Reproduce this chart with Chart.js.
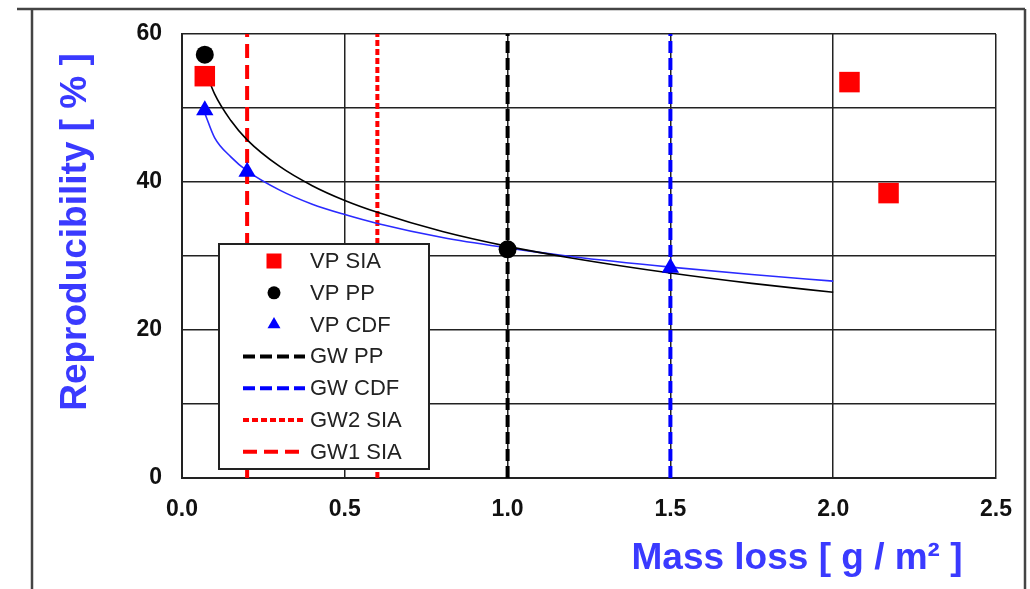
<!DOCTYPE html>
<html>
<head>
<meta charset="utf-8">
<script src="https://cdn.jsdelivr.net/npm/chart.js@4.4.0/dist/chart.umd.min.js"></script>
<style>
  html, body { margin: 0; padding: 0; background: #fff; }
  #wrap { width: 1030px; height: 589px; }
</style>
</head>
<body>
<div id="wrap"><canvas id="myChart"></canvas></div>
<script>
// measured points
const siaX = [0.07, 2.05, 2.17];
const siaY = [54.3, 53.5, 38.5];
const ppX = [0.07, 1.0];
const ppY = [57.2, 30.9];
const cdfX = [0.07, 0.2, 1.5];
const cdfY = [49.7, 41.4, 28.4];

// fitted trend curves
const fitX = [0.07, 0.1, 0.15, 0.2, 0.3, 0.4, 0.5, 0.6, 0.8, 1.0, 1.2, 1.5, 1.75, 2.0];
const ppFitY = [55.3, 51.9, 48.3, 45.7, 42.1, 39.5, 37.5, 35.9, 33.3, 31.3, 29.7, 27.7, 26.3, 25.1];
const cdfFitY = [49.3, 46.0, 43.4, 41.5, 38.9, 37.0, 35.6, 34.4, 32.5, 31.1, 29.9, 28.5, 27.5, 26.6];

// guideline positions (g/m2)
const gwPP = 1.0;
const gwCDF = 1.5;
const gw2SIA = 0.6;
const gw1SIA = 0.2;

const yLabelTicks = [0, 20, 40, 60];

const FONT = "'Liberation Sans', Arial, sans-serif";
const TITLE_BLUE = '#3a3aff';

function pts(xs, ys) {
  return xs.map((x, i) => ({ x: x, y: ys[i] }));
}

function vline(x) {
  return [{ x: x, y: 0 }, { x: x, y: 60 }];
}

const datasets = [
  {
    label: 'VP SIA', data: pts(siaX, siaY), pointStyle: 'rect', pointRadius: 14.5,
    backgroundColor: '#ff0000', borderWidth: 0, order: 0, legendMark: 'rect',
  },
  {
    label: 'VP PP', data: pts(ppX, ppY), pointStyle: 'circle', pointRadius: 9,
    backgroundColor: '#000000', borderWidth: 0, order: 0, legendMark: 'circle',
  },
  {
    label: 'VP CDF', data: pts(cdfX, cdfY), pointStyle: 'triangle', pointRadius: 10,
    backgroundColor: '#0000ff', borderWidth: 0, order: 0, legendMark: 'triangle',
  },
  {
    label: 'GW PP', data: vline(gwPP), showLine: true, pointRadius: 0,
    borderColor: '#000000', borderWidth: 4, borderDash: [12, 5], order: 2, legendMark: 'line',
  },
  {
    label: 'GW CDF', data: vline(gwCDF), showLine: true, pointRadius: 0,
    borderColor: '#0000ff', borderWidth: 4, borderDash: [12, 5], order: 2, legendMark: 'line',
  },
  {
    label: 'GW2 SIA', data: vline(gw2SIA), showLine: true, pointRadius: 0,
    borderColor: '#ff0000', borderWidth: 4, borderDash: [6, 3], order: 2, legendMark: 'line',
  },
  {
    label: 'GW1 SIA', data: vline(gw1SIA), showLine: true, pointRadius: 0,
    borderColor: '#ff0000', borderWidth: 4, borderDash: [14, 7], order: 2, legendMark: 'line',
  },
  {
    label: 'fit PP', data: pts(fitX, ppFitY), showLine: true, pointRadius: 0,
    borderColor: '#000000', borderWidth: 1.6, cubicInterpolationMode: 'monotone', order: 1,
  },
  {
    label: 'fit CDF', data: pts(fitX, cdfFitY), showLine: true, pointRadius: 0,
    borderColor: '#2a2aff', borderWidth: 1.6, cubicInterpolationMode: 'monotone', order: 1,
  },
];

// page frame lines around the figure
const framePlugin = {
  id: 'frame',
  beforeDraw(chart) {
    const ctx = chart.ctx;
    ctx.save();
    ctx.strokeStyle = '#444';
    ctx.lineWidth = 2.5;
    ctx.beginPath();
    ctx.moveTo(17, 9);
    ctx.lineTo(1025, 9);
    ctx.moveTo(32, 9);
    ctx.lineTo(32, 589);
    ctx.moveTo(1025, 9);
    ctx.lineTo(1025, 589);
    ctx.stroke();
    ctx.restore();
  },
};

// axis titles
const titlePlugin = {
  id: 'titles',
  afterDraw(chart) {
    const ctx = chart.ctx;
    ctx.save();
    ctx.fillStyle = TITLE_BLUE;
    ctx.font = 'bold 37px ' + FONT;
    ctx.textAlign = 'center';
    ctx.textBaseline = 'alphabetic';
    ctx.fillText('Mass loss [ g / m\u00B2 ]', 797, 569);
    ctx.translate(86, 232);
    ctx.rotate(-Math.PI / 2);
    ctx.fillText('Reproducibility [ % ]', 0, 0);
    ctx.restore();
  },
};

// boxed legend inside the plot
const boxLegendPlugin = {
  id: 'boxLegend',
  afterDatasetsDraw(chart) {
    const ctx = chart.ctx;
    const area = chart.chartArea;
    const left = area.left + 37;
    const top = area.top + 210;
    const w = 210;
    const h = 225;
    ctx.save();
    ctx.fillStyle = '#fff';
    ctx.fillRect(left, top, w, h);
    ctx.strokeStyle = '#222';
    ctx.lineWidth = 2;
    ctx.strokeRect(left, top, w, h);

    const items = chart.data.datasets.filter(d => d.legendMark);
    const mx = left + 55;
    items.forEach((d, i) => {
      const y = top + 17 + i * 31.8;
      if (d.legendMark === 'line') {
        ctx.strokeStyle = d.borderColor;
        ctx.lineWidth = 4;
        ctx.setLineDash(d.borderDash);
        ctx.beginPath();
        ctx.moveTo(left + 24, y);
        ctx.lineTo(left + 86, y);
        ctx.stroke();
        ctx.setLineDash([]);
      } else {
        ctx.fillStyle = d.backgroundColor;
        ctx.beginPath();
        if (d.legendMark === 'rect') {
          ctx.rect(mx - 7.5, y - 7.5, 15, 15);
        } else if (d.legendMark === 'circle') {
          ctx.arc(mx, y, 6.5, 0, Math.PI * 2);
        } else {
          const r = 7.5;
          ctx.moveTo(mx, y - r);
          ctx.lineTo(mx + r * 0.866, y + r / 2);
          ctx.lineTo(mx - r * 0.866, y + r / 2);
          ctx.closePath();
        }
        ctx.fill();
      }
      ctx.fillStyle = '#222';
      ctx.font = '22px ' + FONT;
      ctx.textAlign = 'left';
      ctx.textBaseline = 'middle';
      ctx.fillText(d.label, left + 91, y + 1);
    });
    ctx.restore();
  },
};

const config = {
  type: 'scatter',
  data: { datasets: datasets },
  options: {
    animation: false,
    responsive: true,
    maintainAspectRatio: false,
    layout: {
      padding: { top: 34, right: 34, left: 0, bottom: 0 },
    },
    scales: {
      x: {
        type: 'linear',
        min: 0,
        max: 2.5,
        afterFit: (s) => { s.height = 111; },
        ticks: {
          stepSize: 0.5,
          padding: 18,
          color: '#111',
          font: { family: FONT, size: 23, weight: 'bold' },
          callback: (v) => v.toFixed(1),
        },
        grid: { color: '#222', lineWidth: 1.5, drawTicks: false },
        border: { color: '#222', width: 2 },
      },
      y: {
        type: 'linear',
        min: 0,
        max: 60,
        afterFit: (s) => { s.width = 182; },
        ticks: {
          stepSize: 10,
          padding: 20,
          color: '#111',
          font: { family: FONT, size: 23, weight: 'bold' },
          callback: (v) => (yLabelTicks.includes(v) ? String(v) : ''),
        },
        grid: { color: '#222', lineWidth: 1.5, drawTicks: false },
        border: { color: '#222', width: 2 },
      },
    },
    plugins: {
      legend: { display: false },
      tooltip: { enabled: false },
    },
  },
  plugins: [framePlugin, titlePlugin, boxLegendPlugin],
};

const myChart = new Chart(document.getElementById('myChart'), config);
</script>
</body>
</html>
